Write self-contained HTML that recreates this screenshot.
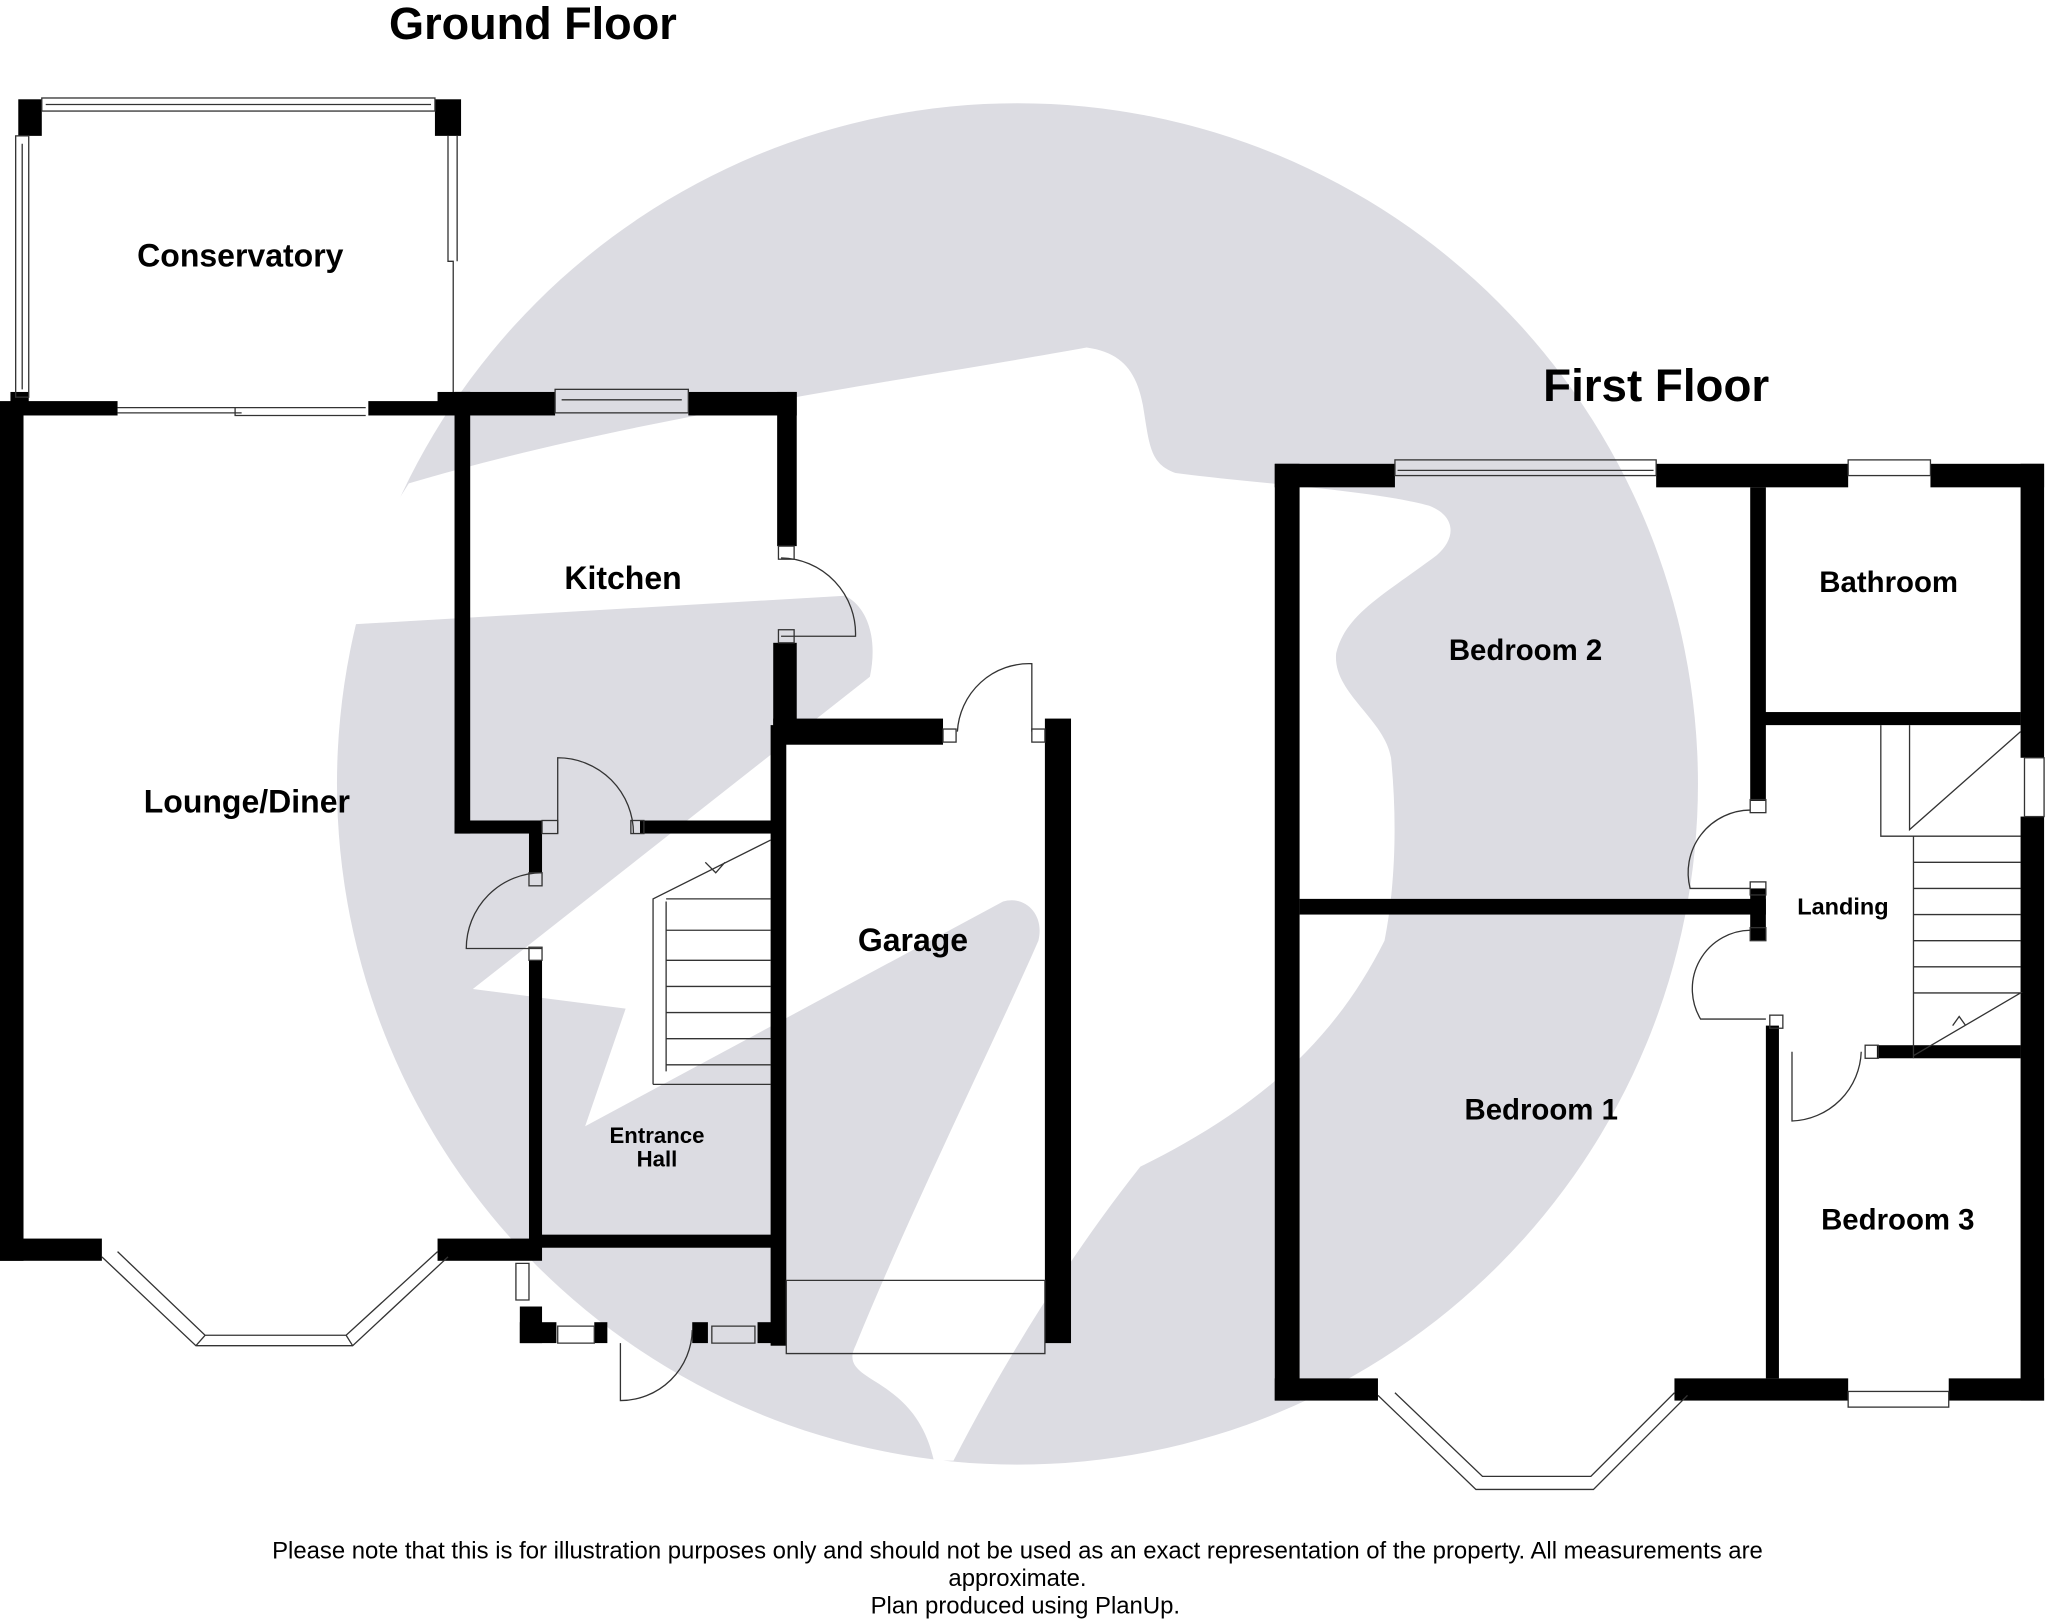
<!DOCTYPE html>
<html><head><style>html,body{margin:0;padding:0;background:#fff;}svg{display:block;}</style></head>
<body>
<svg width="2048" height="1624" viewBox="0 0 1568 1243" preserveAspectRatio="none" xmlns="http://www.w3.org/2000/svg" font-family="Liberation Sans, Arial, sans-serif">
<rect width="1568" height="1243" fill="#fff"/>
<circle cx="779" cy="600" r="521" fill="#dcdce2"/>
<path fill="#fff" d="M250,470 L313,370 C480,320 700,290 832,266 C860,270 870,285 875,310 C880,340 880,355 900,362 C960,370 1050,375 1094,387 C1115,395 1115,412 1100,425 C1060,455 1030,470 1023,500 C1020,530 1060,550 1065,580 C1070,630 1068,680 1060,720 C1020,800 960,850 873,893 C820,960 770,1040 730,1118 L715,1118 C700,1050 640,1060 655,1030 C700,920 760,800 795,720 C800,700 785,685 768,690 L448,862 L479,772 L362,757 L666,518 C672,490 665,465 647,456 L268,478 Z"/>
<g fill="#000">
<rect x="0" y="308" width="18" height="657"/>
<rect x="0" y="307" width="90" height="11"/>
<rect x="282" y="307" width="70" height="11"/>
<rect x="14" y="76" width="18" height="28"/>
<rect x="333" y="76" width="20" height="28"/>
<rect x="8" y="300" width="14" height="10"/>
<rect x="335" y="300" width="25" height="10"/>
<rect x="348" y="300" width="12" height="338"/>
<rect x="348" y="300" width="77" height="18"/>
<rect x="527" y="300" width="83" height="18"/>
<rect x="595" y="300" width="15" height="118"/>
<rect x="592" y="492" width="18" height="63"/>
<rect x="592" y="550" width="130" height="20"/>
<rect x="800" y="550" width="20" height="478"/>
<rect x="590" y="555" width="12" height="475"/>
<rect x="348" y="628" width="67" height="10"/>
<rect x="490" y="628" width="105" height="10"/>
<rect x="405" y="628" width="10" height="40"/>
<rect x="405" y="735" width="10" height="215"/>
<rect x="0" y="948" width="78" height="17"/>
<rect x="335" y="948" width="80" height="17"/>
<rect x="410" y="945" width="190" height="10"/>
<rect x="398" y="1000" width="17" height="28"/>
<rect x="398" y="1012" width="28" height="16"/>
<rect x="455" y="1012" width="10" height="16"/>
<rect x="530" y="1012" width="12" height="16"/>
<rect x="580" y="1012" width="20" height="16"/>
<rect x="976" y="355" width="19" height="717"/>
<rect x="976" y="355" width="92" height="18"/>
<rect x="1268" y="355" width="147" height="18"/>
<rect x="1478" y="355" width="87" height="18"/>
<rect x="1547" y="355" width="18" height="225"/>
<rect x="1547" y="625" width="18" height="447"/>
<rect x="976" y="1055" width="79" height="17"/>
<rect x="1282" y="1055" width="133" height="17"/>
<rect x="1492" y="1055" width="73" height="17"/>
<rect x="1340" y="373" width="12" height="240"/>
<rect x="1350" y="545" width="197" height="10"/>
<rect x="995" y="688" width="357" height="12"/>
<rect x="1340" y="680" width="12" height="40"/>
<rect x="1352" y="785" width="10" height="270"/>
<rect x="1437" y="800" width="110" height="10"/>
</g>
<g fill="none" stroke="#333" stroke-width="1">
<rect x="32" y="75" width="301" height="10"/><line x1="35" y1="80" x2="330" y2="80"/>
<rect x="12" y="104" width="10" height="200"/><line x1="17" y1="110" x2="17" y2="298"/>
<path d="M343,104 V200 H347 V300 M350,104 V200"/>
<path d="M90,312 H280 M180,312 V318 H280 M90,316 H185"/>
<rect x="425" y="298" width="102" height="18"/><line x1="430" y1="306" x2="522" y2="306"/>
<path d="M598,427 A58,58 0 0 1 655,487 H598"/>
<rect x="596" y="418" width="12" height="10"/><rect x="596" y="482" width="12" height="10"/>
<path d="M427,638 V580 A58,58 0 0 1 485,638"/>
<rect x="415" y="628" width="12" height="10"/><rect x="483" y="628" width="10" height="10"/>
<path d="M415,668 A58,58 0 0 0 357,726 H415"/>
<rect x="405" y="668" width="10" height="10"/><rect x="405" y="725" width="10" height="10"/>
<path d="M733,560 A55,55 0 0 1 790,508 V560"/>
<rect x="722" y="558" width="10" height="10"/><rect x="790" y="558" width="10" height="10"/>
<path d="M475,1028 V1072 A55,55 0 0 0 530,1018"/>
<path d="M500,830 V688 L590,643 M510,690 V820 M510,688 H590 M510,712 H590 M510,735 H590 M510,755 H590 M510,775 H590 M510,795 H590 M510,815 H590 M500,830 H590 M540,660 L548,668 L555,660"/>
<path d="M602,980 H800 V1036 H602 Z"/>
<path d="M78,962 L150,1030 H270 L343,962 M90,958 L157,1022 H265 L335,958 M150,1030 L157,1022 M270,1030 L265,1022"/>
<path d="M395,967 H405 V995 H395 Z M427,1015 H455 V1028 H427 Z M545,1015 H578 V1028 H545 Z"/>
<rect x="1068" y="352" width="200" height="12"/><line x1="1070" y1="360" x2="1266" y2="360"/>
<rect x="1415" y="352" width="63" height="12"/>
<rect x="1550" y="580" width="15" height="45"/>
<rect x="1415" y="1065" width="77" height="12"/>
<path d="M1055,1068 L1130,1140 H1220 L1292,1068 M1068,1066 L1135,1130 H1218 L1282,1066"/>
<path d="M1340,620 A48,48 0 0 0 1294,680 H1340"/>
<path d="M1340,712 A45,45 0 0 0 1302,780 H1352"/>
<path d="M1372,805 V858 A55,55 0 0 0 1425,805"/>
<rect x="1340" y="612" width="12" height="10"/><rect x="1340" y="675" width="12" height="10"/>
<rect x="1340" y="710" width="12" height="10"/><rect x="1355" y="777" width="10" height="10"/><rect x="1428" y="800" width="10" height="10"/>
<path d="M1440,555 V640 H1465 V810 M1462,555 V635 L1547,560 M1465,640 H1547 M1465,660 H1547 M1465,680 H1547 M1465,700 H1547 M1465,720 H1547 M1465,740 H1547 M1465,760 H1547 L1465,808 M1495,785 L1500,778 L1505,785"/>
</g>
<g font-weight="bold" fill="#000" text-anchor="middle">
<text x="408" y="30" font-size="34.5">Ground Floor</text>
<text x="1268" y="307" font-size="35">First Floor</text>
<text x="184" y="204" font-size="24.5">Conservatory</text>
<text x="477" y="451" font-size="24.5">Kitchen</text>
<text x="189" y="622" font-size="24.5">Lounge/Diner</text>
<text x="699" y="728" font-size="24.5">Garage</text>
<text x="503" y="875" font-size="17">Entrance</text>
<text x="503" y="893" font-size="17">Hall</text>
<text x="1168" y="505" font-size="22.5">Bedroom 2</text>
<text x="1446" y="453" font-size="22.5">Bathroom</text>
<text x="1411" y="700" font-size="18">Landing</text>
<text x="1180" y="857" font-size="22.5">Bedroom 1</text>
<text x="1453" y="941" font-size="22.5">Bedroom 3</text>
</g>
<g fill="#000" text-anchor="middle" font-size="18.3">
<text x="779" y="1193">Please note that this is for illustration purposes only and should not be used as an exact representation of the property. All measurements are</text>
<text x="779" y="1214">approximate.</text>
<text x="785" y="1235">Plan produced using PlanUp.</text>
</g>
</svg>
</body></html>
